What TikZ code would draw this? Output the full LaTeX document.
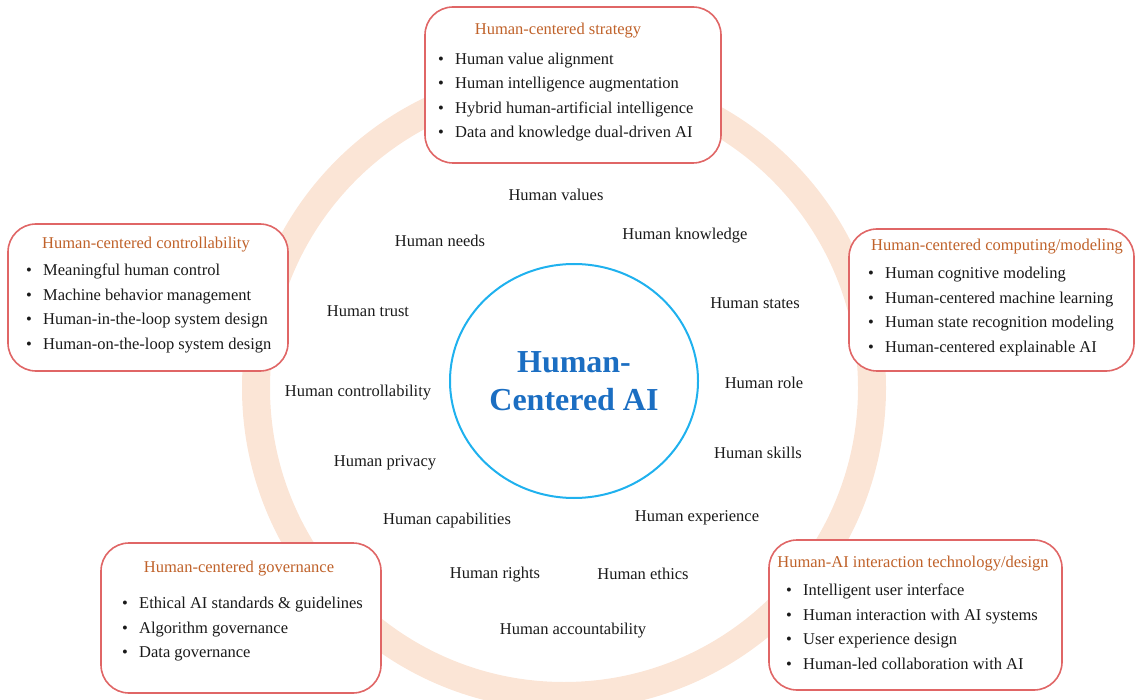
\documentclass[tikz,border=0pt]{standalone}
\usepackage{fontspec}
\setmainfont{Liberation Serif}
\usetikzlibrary{shapes}
\definecolor{ringpeach}{HTML}{FBE5D6}
\definecolor{boxred}{HTML}{E06666}
\definecolor{titlebrown}{HTML}{C0622A}
\definecolor{hubblue}{HTML}{1FB1EE}
\definecolor{hubtext}{HTML}{1B6EC2}
\definecolor{bodytext}{HTML}{1A1A1A}
\newcommand{\itm}{\makebox[17pt][l]{\textbullet}}

\begin{document}
\begin{tikzpicture}[x=1pt,y=-1pt]
\tikzstyle{every node}=[font=\fontsize{16.5}{24.5}\selectfont,text=bodytext]
\tikzstyle{area}=[draw=boxred,line width=1.6pt,fill=white,rounded corners=28pt,inner sep=0pt]
\tikzstyle{areatitle}=[text=titlebrown,inner sep=0pt]
\tikzstyle{arealist}=[align=left,anchor=north west,inner sep=0pt]
\tikzstyle{aspect}=[inner sep=0pt]
\tikzstyle{hub}=[draw=hubblue,line width=2pt,ellipse,minimum width=248pt,minimum height=234pt,inner sep=0pt,text=hubtext,align=center,font=\fontsize{32}{38}\selectfont\bfseries]

\useasboundingbox (0,0) rectangle (1135,700);
\draw[ringpeach,line width=28pt] (564,388) circle (308);

\node[hub](H) at (574,381) {Human-\\Centered AI};

\node[area,minimum width=296pt,minimum height=156pt](S) at (573,85) {};
\node[areatitle](St) at (558,31) {Human-centered strategy};
\node[arealist](Sl) at (438,52.5) {\itm Human value alignment\\\itm Human intelligence augmentation\\\itm Hybrid human-artificial intelligence\\\itm Data and knowledge dual-driven AI};

\node[area,minimum width=280pt,minimum height=147pt](C) at (148,297.5) {};
\node[areatitle](Ct) at (146,245) {Human-centered controllability};
\node[arealist](Cl) at (26,264) {\itm Meaningful human control\\\itm Machine behavior management\\\itm Human-in-the-loop system design\\\itm Human-on-the-loop system design};

\node[area,minimum width=285pt,minimum height=142pt](M) at (991.5,300) {};
\node[areatitle](Mt) at (997,247) {Human-centered computing/modeling};
\node[arealist](Ml) at (868,267) {\itm Human cognitive modeling\\\itm Human-centered machine learning\\\itm Human state recognition modeling\\\itm Human-centered explainable AI};

\node[area,minimum width=280pt,minimum height=150pt](G) at (241,618) {};
\node[areatitle](Gt) at (239,569) {Human-centered governance};
\node[arealist](Gl) at (122,597) {\itm Ethical AI standards \& guidelines\\\itm Algorithm governance\\\itm Data governance};

\node[area,minimum width=293pt,minimum height=150pt](I) at (915.5,615) {};
\node[areatitle](It) at (913,564) {Human-AI interaction technology/design};
\node[arealist](Il) at (786,584) {\itm Intelligent user interface\\\itm Human interaction with AI systems\\\itm User experience design\\\itm Human-led collaboration with AI};

\node[aspect](values) at (556,194.5) {Human values};
\node[aspect](needs) at (440,240.5) {Human needs};
\node[aspect](knowledge) at (685,235.5) {Human knowledge};
\node[aspect](states) at (755,303.5) {Human states};
\node[aspect](trust) at (368,311.5) {Human trust};
\node[aspect](control) at (358,392.5) {Human controllability};
\node[aspect](role) at (764,382.5) {Human role};
\node[aspect](privacy) at (385,462.5) {Human privacy};
\node[aspect](skills) at (758,452.5) {Human skills};
\node[aspect](capab) at (447,520.5) {Human capabilities};
\node[aspect](exper) at (697,517.5) {Human experience};
\node[aspect](rights) at (495,574.5) {Human rights};
\node[aspect](ethics) at (643,573.5) {Human ethics};
\node[aspect](account) at (573,630.5) {Human accountability};
\end{tikzpicture}
\end{document}
